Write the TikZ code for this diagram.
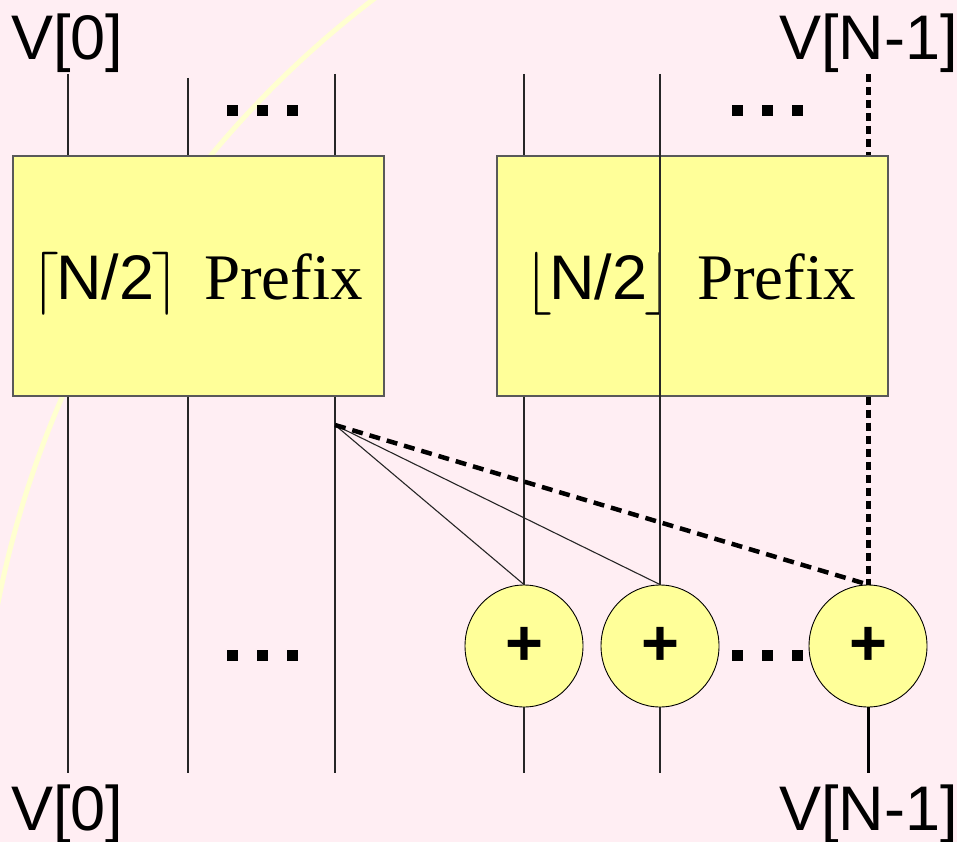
\documentclass[tikz,border=0pt]{standalone}
\usepackage{fontspec}
\setmainfont{Liberation Serif}
\setsansfont{Liberation Sans}
\DeclareFontShape{OMS}{cmsy}{m}{n}{<->cmsy10}{}
\usetikzlibrary{shapes.geometric}
\definecolor{slidebg}{RGB}{255,238,243}
\definecolor{boxyellow}{RGB}{255,255,153}
\definecolor{arcyellow}{RGB}{255,255,208}
\tikzset{
  prefixbox/.style={draw=black!65, line width=1.3pt, fill=boxyellow, inner sep=0pt, minimum height=240pt},
  adder/.style={ellipse, draw, line width=0.9pt, fill=boxyellow, minimum width=118pt, minimum height=122pt, inner sep=0pt, font=\sffamily\bfseries\fontsize{65}{65}\selectfont},
  wire/.style={line width=1.1pt, black!85},
  fatdash/.style={line width=5pt, dash pattern=on 8pt off 5pt},
  biglabel/.style={inner sep=0pt, font=\sffamily\fontsize{63}{63}\selectfont},
  boxtext/.style={inner sep=0pt, anchor=base west, font=\fontsize{63}{63}\selectfont},
}
\begin{document}
\begin{tikzpicture}[x=1pt, y=-1pt, line cap=butt, line join=miter]
  \fill[slidebg] (0,0) rectangle (957,842);
  \useasboundingbox (0,0) rectangle (957,842);
  \begin{scope}
    \clip (0,0) rectangle (957,842);
    \draw[arcyellow, line width=5pt] plot[domain=190:236, samples=80] ({983+1004*cos(\x)}, {797+1004*sin(\x)});
  \end{scope}
  \node[prefixbox, minimum width=371pt] (boxL) at (198.5,276) {};
  \node[prefixbox, minimum width=391pt] (boxR) at (692.5,276) {};
  \node[boxtext] (ceilL) at (31,299) {$\lceil$\kern-3pt\textsf{N/2}\kern-3pt$\rceil$};
  \node[boxtext, font=\fontsize{65}{65}\selectfont] (prefL) at (204,299) {Prefix};
  \node[boxtext] (floorR) at (524,299) {$\lfloor$\kern-3pt\textsf{N/2}\kern-3pt$\rfloor$};
  \node[boxtext, font=\fontsize{65}{65}\selectfont] (prefR) at (697,299) {Prefix};
  \node[adder] (addA) at (524,646) {\raisebox{-5pt}{+}};
  \node[adder] (addB) at (660,646) {\raisebox{-5pt}{+}};
  \node[adder] (addC) at (868,646) {\raisebox{-5pt}{+}};
  \foreach \n/\px/\py in {a/68/74, b/188/78, c/335/74, d/524/74, e/660/74, f/868/74}{
    \coordinate (top\n) at (\px,\py);
    \coordinate (bot\n) at (\px,773);
  }
  \foreach \n in {a,b,c}
    \draw[wire] (top\n) -- (top\n |- boxL.north) (top\n |- boxL.south) -- (bot\n);
  \draw[wire] (topd) -- (topd |- boxR.north) (topd |- boxR.south) -- (addA.north) (addA.south) -- (botd);
  \draw[wire] (tope) -- (addB.north) (addB.south) -- (bote);
  \draw[fatdash] (topf) -- (topf |- boxR.north) (topf |- boxR.south) -- (addC.north);
  \draw[line width=3pt] (addC.south) -- (botf);
  \coordinate (tap) at (335,425);
  \draw[wire] (tap) -- (addA.north) (tap) -- (addB.north);
  \draw[line width=4.5pt, dash pattern=on 11pt off 7pt] (tap) -- (addC.north);
  \foreach \cx in {262,767}
    \foreach \cy in {111,655}
      \foreach \d in {-30,0,30}
        \fill (\cx+\d-5.5,\cy-5.5) rectangle ++(11,11);
  \node[biglabel, anchor=base west] (inFirst) at (11,60) {V[0]};
  \node[biglabel, anchor=base east] (inLast) at (958,60) {V[N-1]};
  \node[biglabel, anchor=base west] (outFirst) at (11,830) {V[0]};
  \node[biglabel, anchor=base east] (outLast) at (958,830) {V[N-1]};
\end{tikzpicture}
\end{document}
